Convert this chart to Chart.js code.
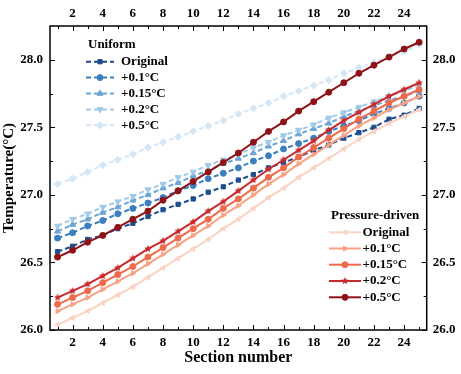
<!DOCTYPE html>
<html>
<head>
<meta charset="utf-8">
<script src="https://cdn.jsdelivr.net/npm/chart.js@4.4.1/dist/chart.umd.min.js"></script>
<style>
  html, body { margin: 0; padding: 0; background: #fff; }
  #wrap { width: 461px; height: 374px; position: relative; }
</style>
</head>
<body>
<div id="wrap"><canvas id="c" width="461" height="374"></canvas></div>
<script>
// ---------- data ----------
const sections = [1,2,3,4,5,6,7,8,9,10,11,12,13,14,15,16,17,18,19,20,21,22,23,24,25];
const xTickValues = [2,4,6,8,10,12,14,16,18,20,22,24];
const yTickValues = [26.0,26.5,27.0,27.5,28.0];

const seriesLabels = ['Original','+0.1°C','+0.15°C','+0.2°C','+0.5°C'];

// Uniform
const uniOriginal = [26.58,26.62,26.67,26.70,26.75,26.79,26.84,26.89,26.93,26.97,27.02,27.06,27.11,27.15,27.20,27.24,27.28,27.33,27.37,27.42,27.46,27.50,27.56,27.59,27.64];
const uni01 = [26.68,26.72,26.77,26.81,26.86,26.90,26.94,26.98,27.03,27.07,27.12,27.16,27.20,27.25,27.29,27.34,27.38,27.42,27.47,27.51,27.55,27.60,27.64,27.68,27.73];
const uni015 = [26.73,26.78,26.82,26.87,26.91,26.96,27.00,27.05,27.09,27.14,27.18,27.23,27.27,27.31,27.36,27.40,27.45,27.49,27.53,27.58,27.62,27.66,27.70,27.73,27.77];
const uni02 = [26.77,26.82,26.86,26.91,26.95,26.99,27.04,27.08,27.13,27.17,27.22,27.26,27.30,27.35,27.39,27.44,27.48,27.52,27.57,27.61,27.65,27.69,27.73,27.77,27.81];
const uni05 = [27.08,27.12,27.17,27.22,27.26,27.30,27.35,27.39,27.43,27.47,27.51,27.55,27.60,27.64,27.68,27.73,27.77,27.81,27.85,27.90,27.94,27.98,28.02,28.06,28.11];

// Pressure-driven
const pdOriginal = [26.04,26.09,26.14,26.20,26.26,26.32,26.39,26.46,26.53,26.60,26.67,26.75,26.82,26.90,26.98,27.05,27.13,27.20,27.27,27.34,27.41,27.47,27.53,27.58,27.63];
const pd01 = [26.14,26.19,26.24,26.30,26.36,26.42,26.49,26.56,26.63,26.70,26.77,26.85,26.92,27.00,27.08,27.15,27.23,27.30,27.37,27.44,27.51,27.57,27.63,27.68,27.73];
const pd015 = [26.19,26.24,26.29,26.35,26.41,26.47,26.54,26.61,26.68,26.75,26.82,26.90,26.97,27.05,27.13,27.20,27.28,27.35,27.42,27.49,27.56,27.62,27.68,27.73,27.78];
const pd02 = [26.24,26.29,26.34,26.40,26.46,26.53,26.60,26.66,26.73,26.80,26.88,26.95,27.03,27.11,27.19,27.26,27.33,27.40,27.48,27.55,27.61,27.67,27.73,27.78,27.83];
const pd05 = [26.54,26.59,26.65,26.70,26.76,26.82,26.88,26.96,27.03,27.10,27.17,27.24,27.31,27.39,27.47,27.54,27.62,27.69,27.76,27.83,27.90,27.96,28.02,28.08,28.13];

// ---------- styles ----------
const FONT = '"Liberation Serif","Times New Roman",serif';
const uniColors = ['#1f4e8f','#3b7fc0','#6ba5d6','#a0cbe8','#d5e6f5'];
const pdColors  = ['#f9d3c3','#f6a383','#ee6a4c','#c92a2e','#8e1217'];

function makeStar(color, r) {
  const s = Math.ceil(r*2+2);
  const cv = document.createElement('canvas');
  cv.width = s; cv.height = s;
  const g = cv.getContext('2d');
  g.fillStyle = color;
  g.beginPath();
  for (let i = 0; i < 10; i++) {
    const rr = i % 2 === 0 ? r : r*0.45;
    const a = -Math.PI/2 + i*Math.PI/5;
    const px = s/2 + rr*Math.cos(a), py = s/2 + rr*Math.sin(a);
    if (i === 0) g.moveTo(px, py); else g.lineTo(px, py);
  }
  g.closePath(); g.fill();
  return cv;
}

const uniMarkers = [
  {style:'rect', rot:0, r:3},
  {style:'circle', rot:0, r:3},
  {style:'triangle', rot:0, r:3.5},
  {style:'triangle', rot:180, r:3.5},
  {style:'rectRot', rot:0, r:3.5}
];
const pdMarkers = [
  {style:'triangle', rot:-90, r:3},
  {style:'triangle', rot:90, r:3},
  {style:'circle', rot:0, r:3},
  {style:makeStar(pdColors[3], 4), rot:0, r:4},
  {style:'circle', rot:0, r:3}
];

const uniSeries = [uniOriginal, uni01, uni015, uni02, uni05];
const pdSeries = [pdOriginal, pd01, pd015, pd02, pd05];

function mkDataset(vals, color, mk, dashed, group, i) {
  return {
    label: group + ' ' + seriesLabels[i],
    data: sections.map((s, k) => ({x: s, y: vals[k]})),
    borderColor: color,
    backgroundColor: color,
    borderWidth: 2,
    borderDash: dashed ? [5,3] : [],
    pointStyle: mk.style,
    pointRotation: mk.rot,
    pointRadius: mk.r,
    pointBorderWidth: 1,
    pointBorderColor: color,
    pointBackgroundColor: color,
    tension: 0,
    fill: false,
    xAxisID: 'x',
    yAxisID: 'y'
  };
}

const datasets = [];
// PD first so that they are drawn on top
for (let i = 4; i >= 0; i--) datasets.push(mkDataset(pdSeries[i], pdColors[i], pdMarkers[i], false, 'Pressure-driven', i));
for (let i = 4; i >= 0; i--) datasets.push(mkDataset(uniSeries[i], uniColors[i], uniMarkers[i], true, 'Uniform', i));

const tickFont = {family: FONT, size: 13, weight: 'bold'};

function setTicks(values) {
  return function(scale) { scale.ticks = values.map(v => ({value: v})); };
}

// ---------- plugin: frame, inward ticks, legends ----------
const decor = {
  id: 'decor',
  afterDraw(chart) {
    const ctx = chart.ctx;
    const ca = chart.chartArea;
    const xs = chart.scales.x, ys = chart.scales.y;
    ctx.save();
    ctx.strokeStyle = '#000';
    ctx.lineWidth = 1;
    ctx.beginPath();
    // x ticks (top & bottom)
    for (let v = 1; v <= 25; v++) {
      const px = Math.round(xs.getPixelForValue(v)) + 0.5;
      const len = (v % 2 === 0) ? 5 : 3;
      ctx.moveTo(px, ca.bottom); ctx.lineTo(px, ca.bottom - len);
      ctx.moveTo(px, ca.top); ctx.lineTo(px, ca.top + len);
    }
    // y ticks (left & right)
    for (let k = 0; k <= 8; k++) {
      const v = 26 + k*0.25;
      const py = Math.round(ys.getPixelForValue(v)) + 0.5;
      const len = (k % 2 === 0) ? 5 : 3;
      ctx.moveTo(ca.left, py); ctx.lineTo(ca.left + len, py);
      ctx.moveTo(ca.right, py); ctx.lineTo(ca.right - len, py);
    }
    ctx.stroke();
    // frame
    ctx.lineWidth = 1.5;
    ctx.strokeRect(ca.left, ca.top, ca.right - ca.left, ca.bottom - ca.top);

    // legends
    ctx.textBaseline = 'middle';
    ctx.textAlign = 'left';
    ctx.font = 'bold 13px ' + FONT;
    ctx.fillStyle = '#000';
    function legend(title, tx, ty, rows, x0, x1, mx, textX, colors, markers, dashed) {
      ctx.fillStyle = '#000';
      ctx.fillText(title, tx, ty);
      rows.forEach((ry, i) => {
        ctx.save();
        ctx.strokeStyle = colors[i];
        ctx.lineWidth = 2;
        ctx.setLineDash(dashed ? [5,3] : []);
        ctx.beginPath(); ctx.moveTo(x0, ry); ctx.lineTo(x1, ry); ctx.stroke();
        ctx.setLineDash([]);
        ctx.fillStyle = colors[i];
        ctx.strokeStyle = colors[i];
        ctx.lineWidth = 1;
        Chart.helpers.drawPoint(ctx, {pointStyle: markers[i].style, radius: markers[i].r, rotation: markers[i].rot, borderWidth: 1}, mx, ry);
        ctx.restore();
        ctx.fillStyle = '#000';
        ctx.fillText(seriesLabels[i], textX, ry);
      });
    }
    legend('Uniform', 88, 45, [61.7,77.6,93.5,109.4,125.3], 86, 114, 100, 121, uniColors, uniMarkers, true);
    legend('Pressure-driven', 331, 216, [232.3,248.5,264.7,281,297.3], 329, 361, 345, 362.5, pdColors, pdMarkers, false);
    ctx.restore();
  }
};

new Chart(document.getElementById('c'), {
  type: 'line',
  data: { datasets },
  options: {
    responsive: false,
    animation: false,
    layout: { padding: 0 },
    plugins: { legend: { display: false }, tooltip: { enabled: false } },
    scales: {
      x: {
        type: 'linear', position: 'bottom', min: 0.5, max: 25.5,
        afterBuildTicks: setTicks(xTickValues),
        ticks: { font: tickFont, color: '#000', padding: 5, maxRotation: 0, autoSkip: false },
        grid: { display: false, drawTicks: false },
        border: { display: false },
        title: { display: true, text: 'Section number', color: '#000', font: {family: FONT, size: 16, weight: 'bold'}, padding: {top: 0, bottom: 7} },
        afterFit(s) { s.height = 44; }
      },
      x2: {
        type: 'linear', position: 'top', min: 0.5, max: 25.5,
        afterBuildTicks: setTicks(xTickValues),
        ticks: { font: tickFont, color: '#000', padding: 5, maxRotation: 0, autoSkip: false },
        grid: { display: false, drawTicks: false },
        border: { display: false },
        afterFit(s) { s.height = 26; }
      },
      y: {
        type: 'linear', position: 'left', min: 26, max: 28.25,
        afterBuildTicks: setTicks(yTickValues),
        ticks: { font: tickFont, color: '#000', padding: 7, callback: v => Number(v).toFixed(1) },
        grid: { display: false, drawTicks: false },
        border: { display: false },
        title: { display: true, text: 'Temperature(°C)', color: '#000', font: {family: FONT, size: 15, weight: 'bold'}, padding: {top: 0, bottom: 0} },
        afterFit(s) { s.width = 50; }
      },
      y2: {
        type: 'linear', position: 'right', min: 26, max: 28.25,
        afterBuildTicks: setTicks(yTickValues),
        ticks: { font: tickFont, color: '#000', padding: 6, callback: v => Number(v).toFixed(1) },
        grid: { display: false, drawTicks: false },
        border: { display: false },
        afterFit(s) { s.width = 34.3; }
      }
    }
  },
  plugins: [decor]
});
</script>
</body>
</html>
